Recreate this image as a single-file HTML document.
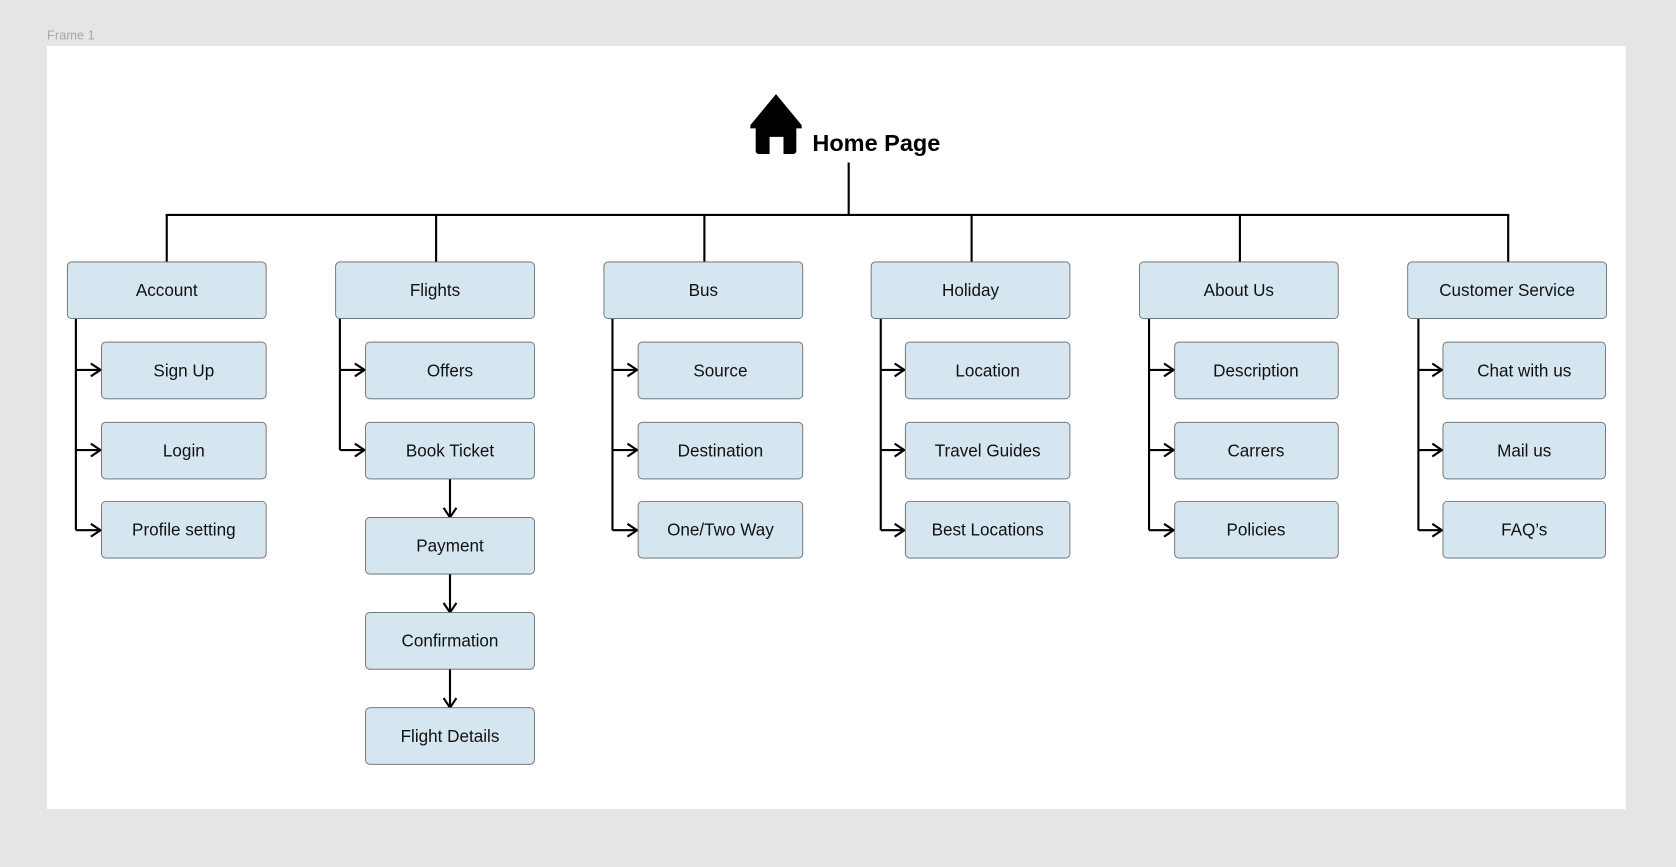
<!DOCTYPE html>
<html><head><meta charset="utf-8"><style>
html,body{margin:0;padding:0;background:#e5e5e5;}
svg{display:block;}
text{font-family:"Liberation Sans",sans-serif;}
</style></head><body>
<svg width="1676" height="867" viewBox="0 0 1568 811" xmlns="http://www.w3.org/2000/svg">
<defs>
<marker id="a" viewBox="0 0 12 14" refX="11" refY="7" markerWidth="12" markerHeight="14" markerUnits="userSpaceOnUse" orient="auto">
<path d="M2,1 L11,7 L2,13" fill="none" stroke="#000" stroke-width="2"/>
</marker>
</defs>
<rect width="1568" height="811" fill="#e5e5e5"/>
<text x="44" y="37" font-size="12" fill="#a8a8a8">Frame 1</text>
<rect x="44" y="43" width="1477" height="714" fill="#fff"/>
<path d="M726,88 L750,117 L750,120 L745,120 L745,141 Q745,144 742,144 L733,144 L733,128 L720,128 L720,144 L710,144 Q707,144 707,141 L707,120 L702,120 L702,117 Z" fill="#000"/>
<text x="760" y="141" font-size="22" font-weight="bold" fill="#000">Home Page</text>
<g stroke="#000" stroke-width="2" fill="none">
<line x1="794" y1="152" x2="794" y2="201"/>
<line x1="155" y1="201" x2="1412" y2="201"/>
<line x1="156" y1="201" x2="156" y2="245"/>
<line x1="408" y1="201" x2="408" y2="245"/>
<line x1="659" y1="201" x2="659" y2="245"/>
<line x1="909" y1="201" x2="909" y2="245"/>
<line x1="1160" y1="201" x2="1160" y2="245"/>
<line x1="1411" y1="201" x2="1411" y2="245"/>
<path d="M71,298 V496"/><path d="M318,298 V421"/><path d="M573,298 V496"/><path d="M824,298 V496"/><path d="M1075,298 V496"/><path d="M1327,298 V496"/>
</g>
<g stroke="#000" stroke-width="2" marker-end="url(#a)">
<line x1="71" y1="346" x2="94" y2="346"/><line x1="71" y1="421" x2="94" y2="421"/><line x1="71" y1="496" x2="94" y2="496"/>
<line x1="318" y1="346" x2="341" y2="346"/><line x1="318" y1="421" x2="341" y2="421"/>
<line x1="573" y1="346" x2="596" y2="346"/><line x1="573" y1="421" x2="596" y2="421"/><line x1="573" y1="496" x2="596" y2="496"/>
<line x1="824" y1="346" x2="846" y2="346"/><line x1="824" y1="421" x2="846" y2="421"/><line x1="824" y1="496" x2="846" y2="496"/>
<line x1="1075" y1="346" x2="1098" y2="346"/><line x1="1075" y1="421" x2="1098" y2="421"/><line x1="1075" y1="496" x2="1098" y2="496"/>
<line x1="1327" y1="346" x2="1349" y2="346"/><line x1="1327" y1="421" x2="1349" y2="421"/><line x1="1327" y1="496" x2="1349" y2="496"/>
<line x1="421" y1="447" x2="421" y2="484"/><line x1="421" y1="537" x2="421" y2="573"/><line x1="421" y1="626" x2="421" y2="662"/>
</g>
<g fill="#d5e6f0" stroke="#666" stroke-width="0.8">
<rect x="63" y="245" width="186" height="53" rx="4"/>
<rect x="314" y="245" width="186" height="53" rx="4"/>
<rect x="565" y="245" width="186" height="53" rx="4"/>
<rect x="815" y="245" width="186" height="53" rx="4"/>
<rect x="1066" y="245" width="186" height="53" rx="4"/>
<rect x="1317" y="245" width="186" height="53" rx="4"/>
<rect x="95" y="320" width="154" height="53" rx="4"/><rect x="95" y="395" width="154" height="53" rx="4"/><rect x="95" y="469" width="154" height="53" rx="4"/>
<rect x="342" y="320" width="158" height="53" rx="4"/><rect x="342" y="395" width="158" height="53" rx="4"/><rect x="342" y="484" width="158" height="53" rx="4"/><rect x="342" y="573" width="158" height="53" rx="4"/><rect x="342" y="662" width="158" height="53" rx="4"/>
<rect x="597" y="320" width="154" height="53" rx="4"/><rect x="597" y="395" width="154" height="53" rx="4"/><rect x="597" y="469" width="154" height="53" rx="4"/>
<rect x="847" y="320" width="154" height="53" rx="4"/><rect x="847" y="395" width="154" height="53" rx="4"/><rect x="847" y="469" width="154" height="53" rx="4"/>
<rect x="1099" y="320" width="153" height="53" rx="4"/><rect x="1099" y="395" width="153" height="53" rx="4"/><rect x="1099" y="469" width="153" height="53" rx="4"/>
<rect x="1350" y="320" width="152" height="53" rx="4"/><rect x="1350" y="395" width="152" height="53" rx="4"/><rect x="1350" y="469" width="152" height="53" rx="4"/>
</g>
<g font-size="16" fill="#111" text-anchor="middle">
<text x="156" y="277">Account</text><text x="407" y="277">Flights</text><text x="658" y="277">Bus</text><text x="908" y="277">Holiday</text><text x="1159" y="277">About Us</text><text x="1410" y="277">Customer Service</text>
<text x="172" y="352">Sign Up</text><text x="172" y="427">Login</text><text x="172" y="501">Profile setting</text>
<text x="421" y="352">Offers</text><text x="421" y="427">Book Ticket</text><text x="421" y="516">Payment</text><text x="421" y="605">Confirmation</text><text x="421" y="694">Flight Details</text>
<text x="674" y="352">Source</text><text x="674" y="427">Destination</text><text x="674" y="501">One/Two Way</text>
<text x="924" y="352">Location</text><text x="924" y="427">Travel Guides</text><text x="924" y="501">Best Locations</text>
<text x="1175" y="352">Description</text><text x="1175" y="427">Carrers</text><text x="1175" y="501">Policies</text>
<text x="1426" y="352">Chat with us</text><text x="1426" y="427">Mail us</text><text x="1426" y="501">FAQ’s</text>
</g>
</svg>
</body></html>
